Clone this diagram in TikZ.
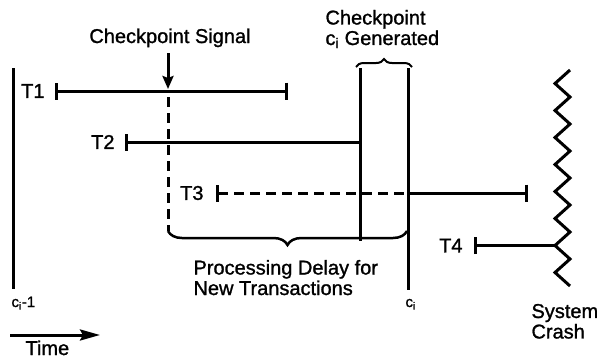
\documentclass[tikz,border=0pt]{standalone}
\usepackage{fontspec}
\setmainfont{Liberation Sans}[FakeBold=1.2]
\usetikzlibrary{arrows.meta,decorations.pathreplacing}

\begin{document}
\begin{tikzpicture}[x=1pt,y=-1pt,line width=3pt,
  lbl/.style={font=\fontsize{20}{20.5}\selectfont,inner sep=0pt},
  small/.style={font=\fontsize{15}{15}\selectfont,inner sep=0pt},
  dashline/.style={dash pattern=on 10pt off 6pt},
  bar/.tip={Bar[width=17pt]}]

\useasboundingbox (0,0) rectangle (607,360);

% checkpoint lines
\coordinate (Ca) at (13,68);
\coordinate (Cb) at (13,289);
\coordinate (Gtop) at (360,68);
\coordinate (Gbot) at (360,241);
\coordinate (Ctop) at (408,68);
\coordinate (Cbot) at (408,290);

\draw (Ca)--(Cb);
\draw (Gtop)--(Gbot);
\draw (Ctop)--(Cbot);

% transactions
\coordinate (T1s) at (55,91);
\coordinate (T1e) at (288,91);
\coordinate (T2s) at (125,142);
\coordinate (T2e) at (360,142);
\coordinate (T3s) at (216,193);
\coordinate (T3m) at (408,193);
\coordinate (T3e) at (528,193);
\coordinate (T4s) at (474,245.5);
\coordinate (crash) at (555,245.5);

\node[lbl,anchor=east] (T1) at (46,91) {T1};
\node[lbl,anchor=east] (T2) at (116,142) {T2};
\node[lbl,anchor=east] (T3) at (205,193) {T3};
\node[lbl,anchor=east] (T4) at (464,245.5) {T4};

\draw[bar-bar] (T1s)--(T1e);
\draw[bar-] (T2s)--(T2e);
\draw[dashline,bar-] (T3s)--(T3m);
\draw[-bar] (T3m)--(T3e);
\draw[bar-] (T4s)--(crash);

% checkpoint signal
\node[lbl,anchor=base] (sig) at (170,43) {Checkpoint Signal};
\coordinate (S1) at (168,53);
\coordinate (S2) at (168,89);
\draw[-{Stealth[length=13pt,width=11pt,inset=2pt]}] (S1)--(S2);

% processing delay
\coordinate (D1) at (168,97);
\coordinate (D2) at (168,231);
\coordinate (D3) at (407,231);
\draw[dashline] (D1)--(D2);
\draw[line width=2.5pt,decorate,decoration={brace,mirror,amplitude=14pt}] (D2)--(D3);
\node[lbl,anchor=north west,align=left] (delay) at (192,258.5)
  {Processing Delay for\\New Transactions};

% checkpoint generated
\coordinate (B1) at (356,67);
\coordinate (B2) at (412,67);
\draw[line width=2pt,decorate,decoration={brace,amplitude=8pt}] (B1)--(B2);
\node[lbl,anchor=north west,align=left] (gen) at (324,8.5)
  {Checkpoint\\c\textsubscript{i} Generated};

\node[small,anchor=base west] (ci1) at (10,307) {c\textsubscript{i}-1};
\node[small,anchor=base west] (ci) at (404,307) {c\textsubscript{i}};

% system crash
\draw[line join=miter] (570,70)
  \foreach \k in {1,...,16} { -- ({570-15*mod(\k,2)},{70+13.5*\k}) };
\node[lbl,anchor=north west,align=left] (sys) at (530,302.5) {System\\Crash};

% time axis
\coordinate (A1) at (10,335);
\coordinate (A2) at (100,335);
\draw[-{Stealth[length=20pt,width=11pt,inset=3pt]}] (A1)--(A2);
\node[lbl,anchor=base west] (time) at (24,355) {Time};

\end{tikzpicture}
\end{document}
